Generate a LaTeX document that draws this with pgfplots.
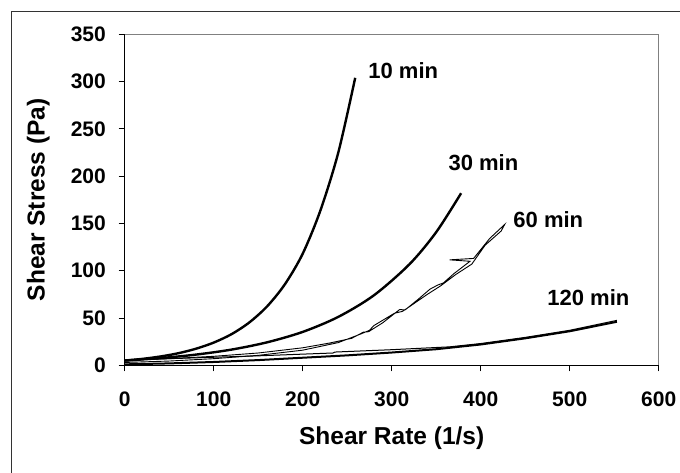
\documentclass[border=0pt]{standalone}
\usepackage{fontspec}
\setmainfont{Liberation Sans}
\usepackage{pgfplots}
\pgfplotsset{compat=1.18}
\begin{document}
\begin{tikzpicture}[x=1pt,y=1pt]
\useasboundingbox (0,0) rectangle (680,473);
\draw[line width=1.3pt, black!80] (11.7,-5) -- (11.7,461.3) -- (690,461.3);
\begin{axis}[
  at={(124.7pt,107.7pt)}, anchor=south west,
  scale only axis, width=534pt, height=331pt,
  xmin=0, xmax=600, ymin=0, ymax=350,
  axis x line*=bottom, axis y line*=left,
  axis line style={black, line width=0.8pt, -},
  xtick={0,100,...,600}, ytick={0,50,...,350},
  tick align=outside, major tick length=6pt,
  tick style={black, line width=0.8pt},
  /pgf/number format/assume math mode=true,
  ticklabel style={font=\bfseries\fontsize{21}{24}\selectfont, inner sep=0pt},
  yticklabel style={anchor=east, xshift=-12.7pt},
  xticklabel style={anchor=north, yshift=-20.4pt},
  xlabel={Shear Rate (1/s)}, ylabel={Shear Stress (Pa)},
  label style={font=\bfseries\fontsize{24.5}{28}\selectfont},
  xlabel style={at={(axis description cs:0.5,-0.221)}, anchor=center},
  ylabel style={at={(axis description cs:-0.162,0.5)}, anchor=center},
  clip=false,
]
\draw[black!50, line width=0.8pt] (rel axis cs:0,1) -- (rel axis cs:1,1) -- (rel axis cs:1,0);
% 10 min
\addplot[black, line width=2.4pt, smooth] coordinates {
(0,5) (20,6.8) (40,9.3) (60,12.7) (80,17.5) (100,24) (120,32.9) (140,45.3) (160,62.3) (180,85.7) (200,118) (220,164) (240,225) (259,304)
};
% 30 min
\addplot[black, line width=2.4pt, smooth] coordinates {
(0,5) (40,7.6) (80,11.3) (120,16.6) (160,24.3) (200,35.3) (240,51.2) (280,74) (320,106.9) (350,140.8) (378,182)
};
% 60 min
\addplot[black, line width=0.9pt] coordinates {
(0,5.5) (50,7) (100,9.5) (150,13) (200,18.5) (230,23.5) (255,28.5) (268,35) (274,35.5) (290,45) (309,59) (315,58.5) (330,70) (343,80.5) (352,85) (358,87) (370,97) (388,110) (365,111.5) (392,113) (410,134) (427,149)
(423,142) (405,127) (393,111) (390,107) (372,96) (355,84) (340,75) (320,62) (312,57) (303,55) (280,42) (275,37) (265,33) (240,24) (200,16) (150,10.5) (100,7) (50,4.5) (0,3)
};
% 120 min
\addplot[black, line width=2pt] coordinates {
(0,1) (50,2) (100,3.5) (150,5.5) (200,8) (250,10.5) (300,13.5) (350,17) (400,22) (450,28.5) (500,36) (553,46)
};
\addplot[black, line width=1pt] coordinates {
(0,5.5) (50,7) (100,8.5) (150,10) (200,11.8) (234,13) (236,14) (300,16.5) (365,19.5) (400,23) (450,29.5) (500,37) (553,47.5)
};
\node[font=\bfseries\fontsize{22}{26}\selectfont] at (axis cs:313,311.7) {10 min};
\node[font=\bfseries\fontsize{22}{26}\selectfont] at (axis cs:403,214) {30 min};
\node[font=\bfseries\fontsize{22}{26}\selectfont] at (axis cs:476,153.5) {60 min};
\node[font=\bfseries\fontsize{22}{26}\selectfont] at (axis cs:521,71.7) {120 min};
\end{axis}
\end{tikzpicture}
\end{document}
